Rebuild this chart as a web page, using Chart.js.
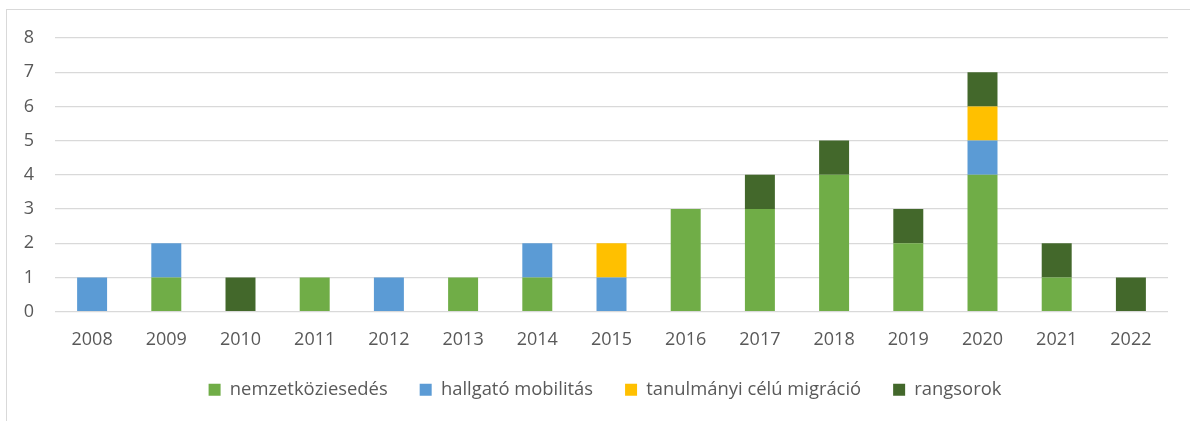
<!DOCTYPE html>
<html>
<head>
<meta charset="utf-8">
<script src="https://cdn.jsdelivr.net/npm/chart.js@4/dist/chart.umd.min.js"></script>
<style>
  html, body { margin: 0; padding: 0; background: #fff; }
  #wrap { position: relative; width: 1190px; height: 421px; }
  #frame { position: absolute; left: 6px; top: 9px; right: -5px; bottom: -5px;
           border-top: 1px solid #d9d9d9; border-left: 1px solid #d9d9d9; }
  canvas { position: absolute; left: 0; top: 0; }
</style>
</head>
<body>
<div id="wrap">
  <div id="frame"></div>
  <canvas id="chart" width="1190" height="421"></canvas>
</div>
<script>
// years on the x axis
const years = ["2008", "2009", "2010", "2011", "2012", "2013", "2014", "2015",
               "2016", "2017", "2018", "2019", "2020", "2021", "2022"];

// counts per topic
const nemzetkoziesedes = [0, 1, 0, 1, 0, 1, 1, 0, 3, 3, 4, 2, 4, 1, 0];
const hallgatoMobilitas = [1, 1, 0, 0, 1, 0, 1, 1, 0, 0, 0, 0, 1, 0, 0];
const tanulmanyiMigracio = [0, 0, 0, 0, 0, 0, 0, 1, 0, 0, 0, 0, 1, 0, 0];
const rangsorok = [0, 0, 1, 0, 0, 0, 0, 0, 0, 1, 1, 1, 1, 1, 1];

const yTicks = [0, 1, 2, 3, 4, 5, 6, 7, 8];

Chart.defaults.font.family = "'Open Sans', 'Noto Sans', sans-serif";
Chart.defaults.font.size = 18;
Chart.defaults.color = "#595959";

// legend sits a bit right of the canvas centre in the original
const legendShift = {
  id: "legendShift",
  afterLayout(chart) {
    chart.legend.left += 42;
  }
};

const ctx = document.getElementById("chart").getContext("2d");
new Chart(ctx, {
  type: "bar",
  data: {
    labels: years,
    datasets: [
      { label: "nemzetköziesedés", data: nemzetkoziesedes, backgroundColor: "#70ad47" },
      { label: "hallgató mobilitás", data: hallgatoMobilitas, backgroundColor: "#5b9bd5" },
      { label: "tanulmányi célú migráció", data: tanulmanyiMigracio, backgroundColor: "#ffc000" },
      { label: "rangsorok", data: rangsorok, backgroundColor: "#43682b" }
    ]
  },
  options: {
    responsive: false,
    animation: false,
    datasets: {
      bar: { barPercentage: 0.404, categoryPercentage: 1 }
    },
    layout: { padding: { top: 38, right: 22, bottom: 12, left: 0 } },
    plugins: {
      tooltip: { enabled: false },
      legend: {
        position: "bottom",
        labels: {
          boxWidth: 12,
          boxHeight: 12,
          padding: 32,
          color: "#595959",
          font: { size: 18.4 }
        }
      }
    },
    scales: {
      x: {
        stacked: true,
        grid: { display: false, drawTicks: false },
        border: { display: false },
        afterFit: scale => { scale.height = 37; },
        ticks: { padding: 17, maxRotation: 0 }
      },
      y: {
        stacked: true,
        min: 0,
        max: 8,
        afterFit: scale => { scale.width = 55; },
        afterBuildTicks: scale => { scale.ticks = yTicks.map(v => ({ value: v })); },
        grid: { color: "#d9d9d9", lineWidth: 1.3, drawTicks: false },
        border: { display: false },
        ticks: { padding: 21 }
      }
    }
  },
  plugins: [legendShift]
});
</script>
</body>
</html>
